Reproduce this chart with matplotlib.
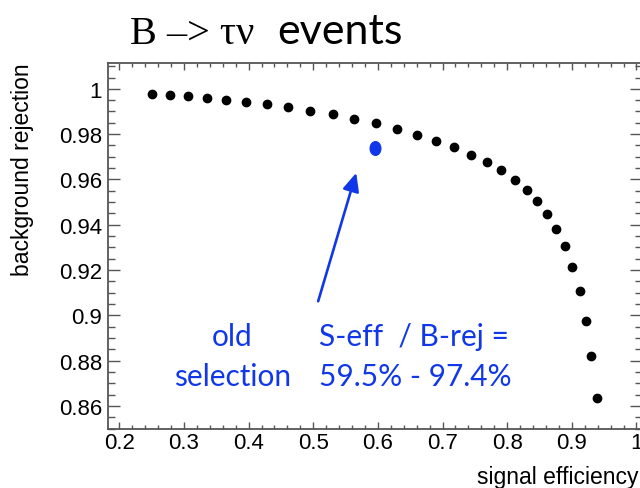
import matplotlib
matplotlib.use('Agg')
import matplotlib.pyplot as plt
from matplotlib.markers import MarkerStyle
from matplotlib.transforms import Affine2D
from matplotlib.ticker import MultipleLocator, FormatStrFormatter

# Cut scan: signal efficiency vs background rejection
sig_eff = [0.251, 0.278, 0.306, 0.335, 0.365, 0.396, 0.428, 0.461, 0.495, 0.530,
           0.563, 0.597, 0.629, 0.660, 0.690, 0.718, 0.744, 0.769, 0.791, 0.812,
           0.830, 0.846, 0.862, 0.876, 0.889, 0.901, 0.912, 0.922, 0.930, 0.939]
bkg_rej = [0.9979, 0.9974, 0.9969, 0.9960, 0.9951, 0.9943, 0.9932, 0.9918, 0.9903, 0.9887,
           0.9866, 0.9847, 0.9822, 0.9797, 0.9771, 0.9741, 0.9710, 0.9676, 0.9640, 0.9599,
           0.9554, 0.9504, 0.9449, 0.9382, 0.9306, 0.9215, 0.9106, 0.8977, 0.8819, 0.8633]

# working point of the old selection
old_eff = 0.595
old_rej = 0.974

blue = '#1038e8'
axis_grey = '#555555'

plt.rcParams['font.family'] = 'Liberation Sans'

fig = plt.figure(figsize=(6.4, 4.89), dpi=100)
ax = fig.add_axes([0.1683, 0.1207, 0.8342, 0.7484])

ax.plot(sig_eff, bkg_rej, 'o', color='black', markersize=6.0, linestyle='None')

# slightly elongated marker for the old selection
ell = MarkerStyle('o', transform=Affine2D().scale(0.78, 1.0))
ax.plot([old_eff], [old_rej], marker=ell, color=blue, markersize=9.8, linestyle='None')

ax.annotate('', xy=(0.5665, 0.9629), xytext=(0.5076, 0.9062),
            arrowprops=dict(arrowstyle='-|>,head_length=0.55,head_width=0.25',
                            color=blue, lw=1.9, mutation_scale=20,
                            shrinkA=0, shrinkB=0))

txt = dict(color=blue, family='Lato', fontsize=21.5, va='baseline')
ax.text(0.3745, 0.8868, 'old', ha='center', **txt)
ax.text(0.3745, 0.8691, 'selection', ha='center', **txt)
ax.text(0.5087, 0.8868, 'S-eff  / B-rej =', ha='left', **txt)
ax.text(0.5087, 0.8691, f'{old_eff*100:.1f}% - {old_rej*100:.1f}%', ha='left', **txt)

# axis ranges and ROOT-like ticks on all sides
ax.set_xlim(0.182, 1.008)
ax.set_ylim(0.8498, 1.0114)
ax.xaxis.set_major_locator(MultipleLocator(0.1))
ax.xaxis.set_minor_locator(MultipleLocator(0.02))
ax.yaxis.set_major_locator(MultipleLocator(0.02))
ax.yaxis.set_minor_locator(MultipleLocator(0.005))
ax.xaxis.set_major_formatter(FormatStrFormatter('%g'))
ax.yaxis.set_major_formatter(FormatStrFormatter('%g'))

ax.tick_params(which='both', direction='in', top=True, right=True,
               color=axis_grey, width=1.0, labelsize=16, labelcolor='black')
ax.tick_params(axis='x', which='major', length=4.8, pad=2.5)
ax.tick_params(axis='x', which='minor', length=2.8)
ax.tick_params(axis='y', which='major', length=8.9, pad=4)
ax.tick_params(axis='y', which='minor', length=4.8)
for sp in ax.spines.values():
    sp.set_color(axis_grey)
    sp.set_linewidth(1.3)

ax.set_xlabel('signal efficiency', fontsize=16.5, loc='right')
ax.set_ylabel('background rejection', fontsize=16.5, loc='top')
ax.xaxis.set_label_coords(0.995, -0.098)
ax.yaxis.set_label_coords(-0.1377, 1.003)

# title: decay channel
fig.text(0.203, 0.9106, 'B –> τν', family='Liberation Serif', fontsize=29,
         va='baseline', ha='left')
fig.text(0.433, 0.9106, 'events', family='Lato', fontsize=31,
         va='baseline', ha='left')

fig.savefig('out.png', dpi=100, facecolor='white')
